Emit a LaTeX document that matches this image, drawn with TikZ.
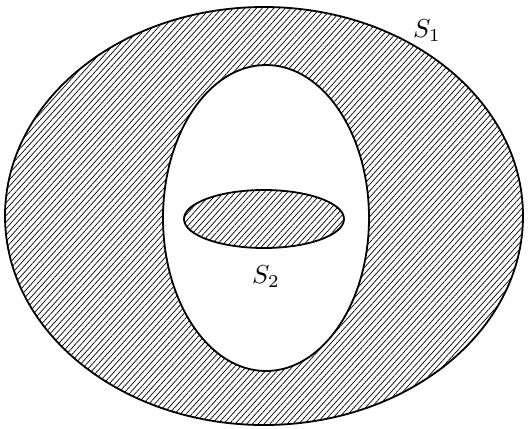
\documentclass[tikz,border=0pt]{standalone}
\usetikzlibrary{patterns.meta}
\begin{document}
\begin{tikzpicture}[x=1pt,y=-1pt,
  hatch/.style={pattern={Lines[angle=48,distance=4.3pt,line width=0.7pt]}},
  outline/.style={line width=1.8pt},
  lab/.style={inner sep=0pt}]
\useasboundingbox (0,0) rectangle (529,428);
% hatched ring between outer ellipse and inner egg
\fill[hatch,even odd rule] (264,216) ellipse [x radius=259, y radius=209]
  (266,218) ellipse [x radius=103, y radius=153];
\draw[outline] (264,216) ellipse [x radius=259, y radius=209];
\draw[outline] (266,218) ellipse [x radius=103, y radius=153];
% small hatched ellipse
\fill[hatch] (264,219) ellipse [x radius=80, y radius=29];
\draw[outline] (264,219) ellipse [x radius=80, y radius=29];
\node[lab] (s1) at (427,31) {\scalebox{2.6}{$S_1$}};
\node[lab] (s2) at (266,277) {\scalebox{2.6}{$S_2$}};
\end{tikzpicture}
\end{document}
